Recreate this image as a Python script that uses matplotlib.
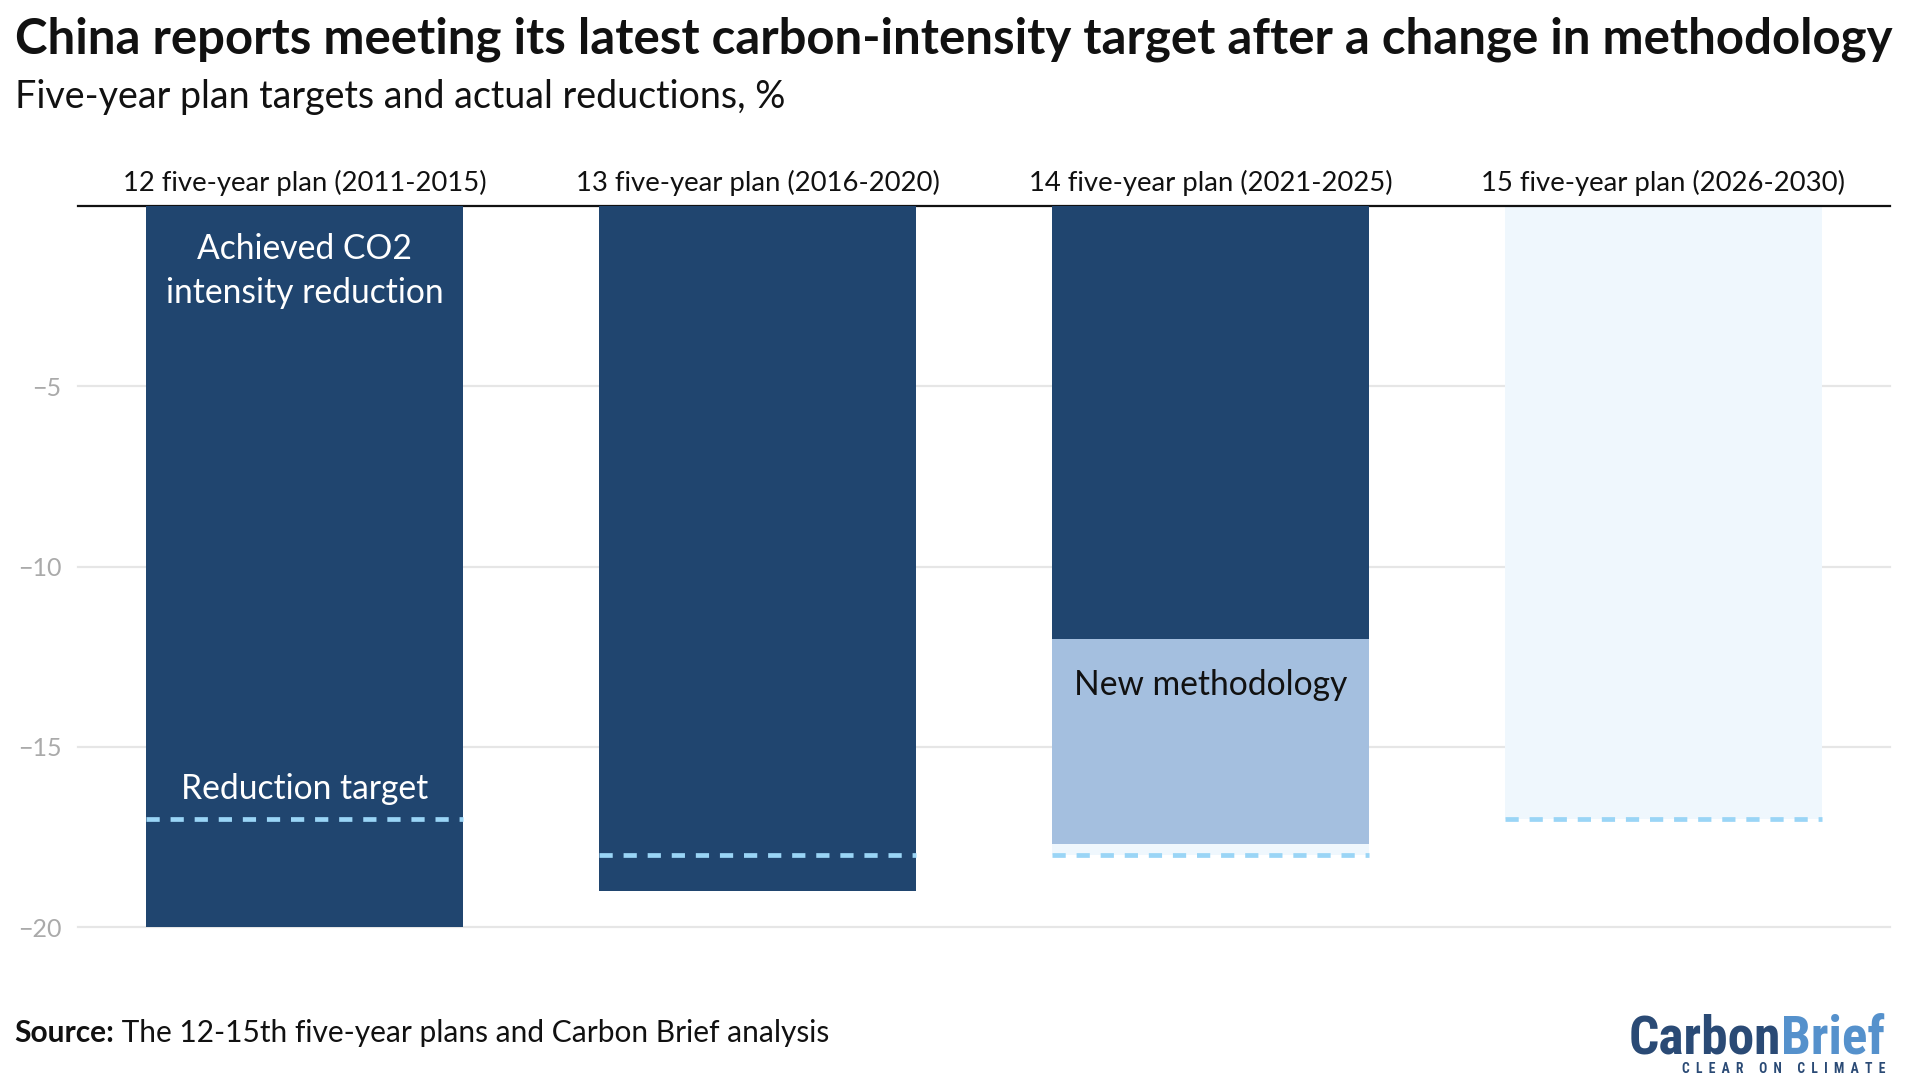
import numpy as np
import matplotlib
matplotlib.use("Agg")
import matplotlib.pyplot as plt
from matplotlib import font_manager

# five-year plans, % change in CO2 intensity
plans = ["12 five-year plan (2011-2015)", "13 five-year plan (2016-2020)",
         "14 five-year plan (2021-2025)", "15 five-year plan (2026-2030)"]
achieved = [-20, -19, -12, np.nan]
new_method = [np.nan, np.nan, -17.7, np.nan]
targets = [-17, -18, -18, -17]
yticks = [-5, -10, -15, -20]

W, H, DPI = 1918, 1088, 100

available = {f.name for f in font_manager.fontManager.ttflist}

def pick(*names):
    for n in names:
        if n in available:
            return n
    return "DejaVu Sans"

body = pick("Lato", "Open Sans", "Noto Sans")
cond = pick("Roboto Condensed", "DejaVu Sans Condensed", "Liberation Sans Narrow", body)
plt.rcParams["font.family"] = [body, "DejaVu Sans"]

NAVY = "#20456f"
MIDBLUE = "#a4bfdf"
GHOST = "#eff7fd"
DASH = "#9ad5f6"

fig = plt.figure(figsize=(W / DPI, H / DPI), dpi=DPI)
ax = fig.add_axes([78 / W, 1 - 927 / H, (1890 - 78) / W, (927 - 206) / H])

x = np.arange(len(plans))
bw = 0.7
ax.bar(x, targets, bw, color=GHOST, zorder=2)
ax.bar(x, new_method, bw, color=MIDBLUE, zorder=3)
ax.bar(x, achieved, bw, color=NAVY, zorder=4)
for xi, t in zip(x, targets):
    ax.hlines(t, xi - bw / 2, xi + bw / 2, colors=DASH, lw=3.4,
              linestyles=(0, (2.8, 2.3)), zorder=5)

ax.set_xlim(-0.5, len(plans) - 0.5)
ax.set_ylim(-20, 0)
ax.set_yticks(yticks)
ax.set_yticklabels([f"\u2212{abs(v)}" for v in yticks])
ax.yaxis.grid(True, color="#e6e6e6", lw=1.6)
ax.set_axisbelow(True)
for gl in ax.get_ygridlines():
    gl.set_clip_on(False)
ax.tick_params(axis="y", length=0, pad=12, labelsize=18, labelcolor="#aaaaaa")

ax.xaxis.tick_top()
ax.set_xticks(x)
ax.set_xticklabels(plans)
ax.tick_params(axis="x", length=0, pad=7, labelsize=15, labelcolor="#111111")

for s in ["left", "right", "bottom"]:
    ax.spines[s].set_visible(False)
ax.spines["top"].set_linewidth(1.6)
ax.spines["top"].set_color("#111111")

# labels inside the bars
a1 = ax.text(0, -1.47, "Achieved CO2", color="white", ha="center", va="baseline", fontsize=23, zorder=6)
a2 = ax.text(0, -2.69, "intensity reduction", color="white", ha="center", va="baseline", fontsize=23, zorder=6)
a3 = ax.text(0, -16.45, "Reduction target", color="white", ha="center", va="baseline", fontsize=23, zorder=6)
a4 = ax.text(2, -13.56, "New methodology", color="#111111", ha="center", va="baseline", fontsize=23, zorder=6)

# titles and footer
title = fig.text(15 / W, 1 - 53 / H, "China reports meeting its latest carbon-intensity target after a change in methodology",
                 fontsize=30, fontweight="bold", va="baseline", color="#111111")
sub = fig.text(15 / W, 1 - 108 / H, "Five-year plan targets and actual reductions, %",
               fontsize=22, va="baseline", color="#111111")
src_b = fig.text(14 / W, 1 - 1042 / H, "Source:", fontsize=18, fontweight="bold", va="baseline", color="#111111")
src_r = fig.text(0, 1 - 1042 / H, " The 12-15th five-year plans and Carbon Brief analysis",
                 fontsize=18, va="baseline", color="#111111")

logo1 = fig.text(1629 / W, 1 - 1054 / H, "Carbon", family=cond, fontweight="bold",
                 fontsize=40, color="#2a4a75", va="baseline")
logo2 = fig.text(0, 1 - 1054 / H, "Brief", family=cond, fontweight="bold",
                 fontsize=40, color="#5591cc", va="baseline")
tag = fig.text(1885 / W, 1 - 1073 / H, "  ".join("CLEAR") + "     " + "  ".join("ON") + "     " + "  ".join("CLIMATE"),
               family=cond, fontweight="bold", fontsize=6, color="#2a4a75", ha="right", va="baseline")

fig.canvas.draw()
r = fig.canvas.get_renderer()

def fit(t, width):
    w = t.get_window_extent(r).width
    t.set_fontsize(t.get_fontsize() * width / w)

fit(title, 1875)
fit(sub, 768)
fit(a1, 215)
for t in (a2, a3, a4):
    t.set_fontsize(a1.get_fontsize())
fit(tag, 203)

# category labels: fit the first one, reuse size
lab0 = ax.get_xticklabels()[0]
w0 = lab0.get_window_extent(r).width
ax.tick_params(axis="x", labelsize=15 * 364 / w0)

# source line: bold + regular, total width ~813
total = src_b.get_window_extent(r).width + src_r.get_window_extent(r).width
k = 813 / total
src_b.set_fontsize(18 * k)
src_r.set_fontsize(18 * k)
fig.canvas.draw()
bx = src_b.get_window_extent(r)
src_r.set_x(bx.x1 / W)

# logo: Carbon + Brief, total width ~257
total = logo1.get_window_extent(r).width + logo2.get_window_extent(r).width
k = 257 / total
logo1.set_fontsize(40 * k)
logo2.set_fontsize(40 * k)
fig.canvas.draw()
lx = logo1.get_window_extent(r)
logo2.set_x(lx.x1 / W)

fig.savefig("out.png", dpi=DPI, facecolor="white")
